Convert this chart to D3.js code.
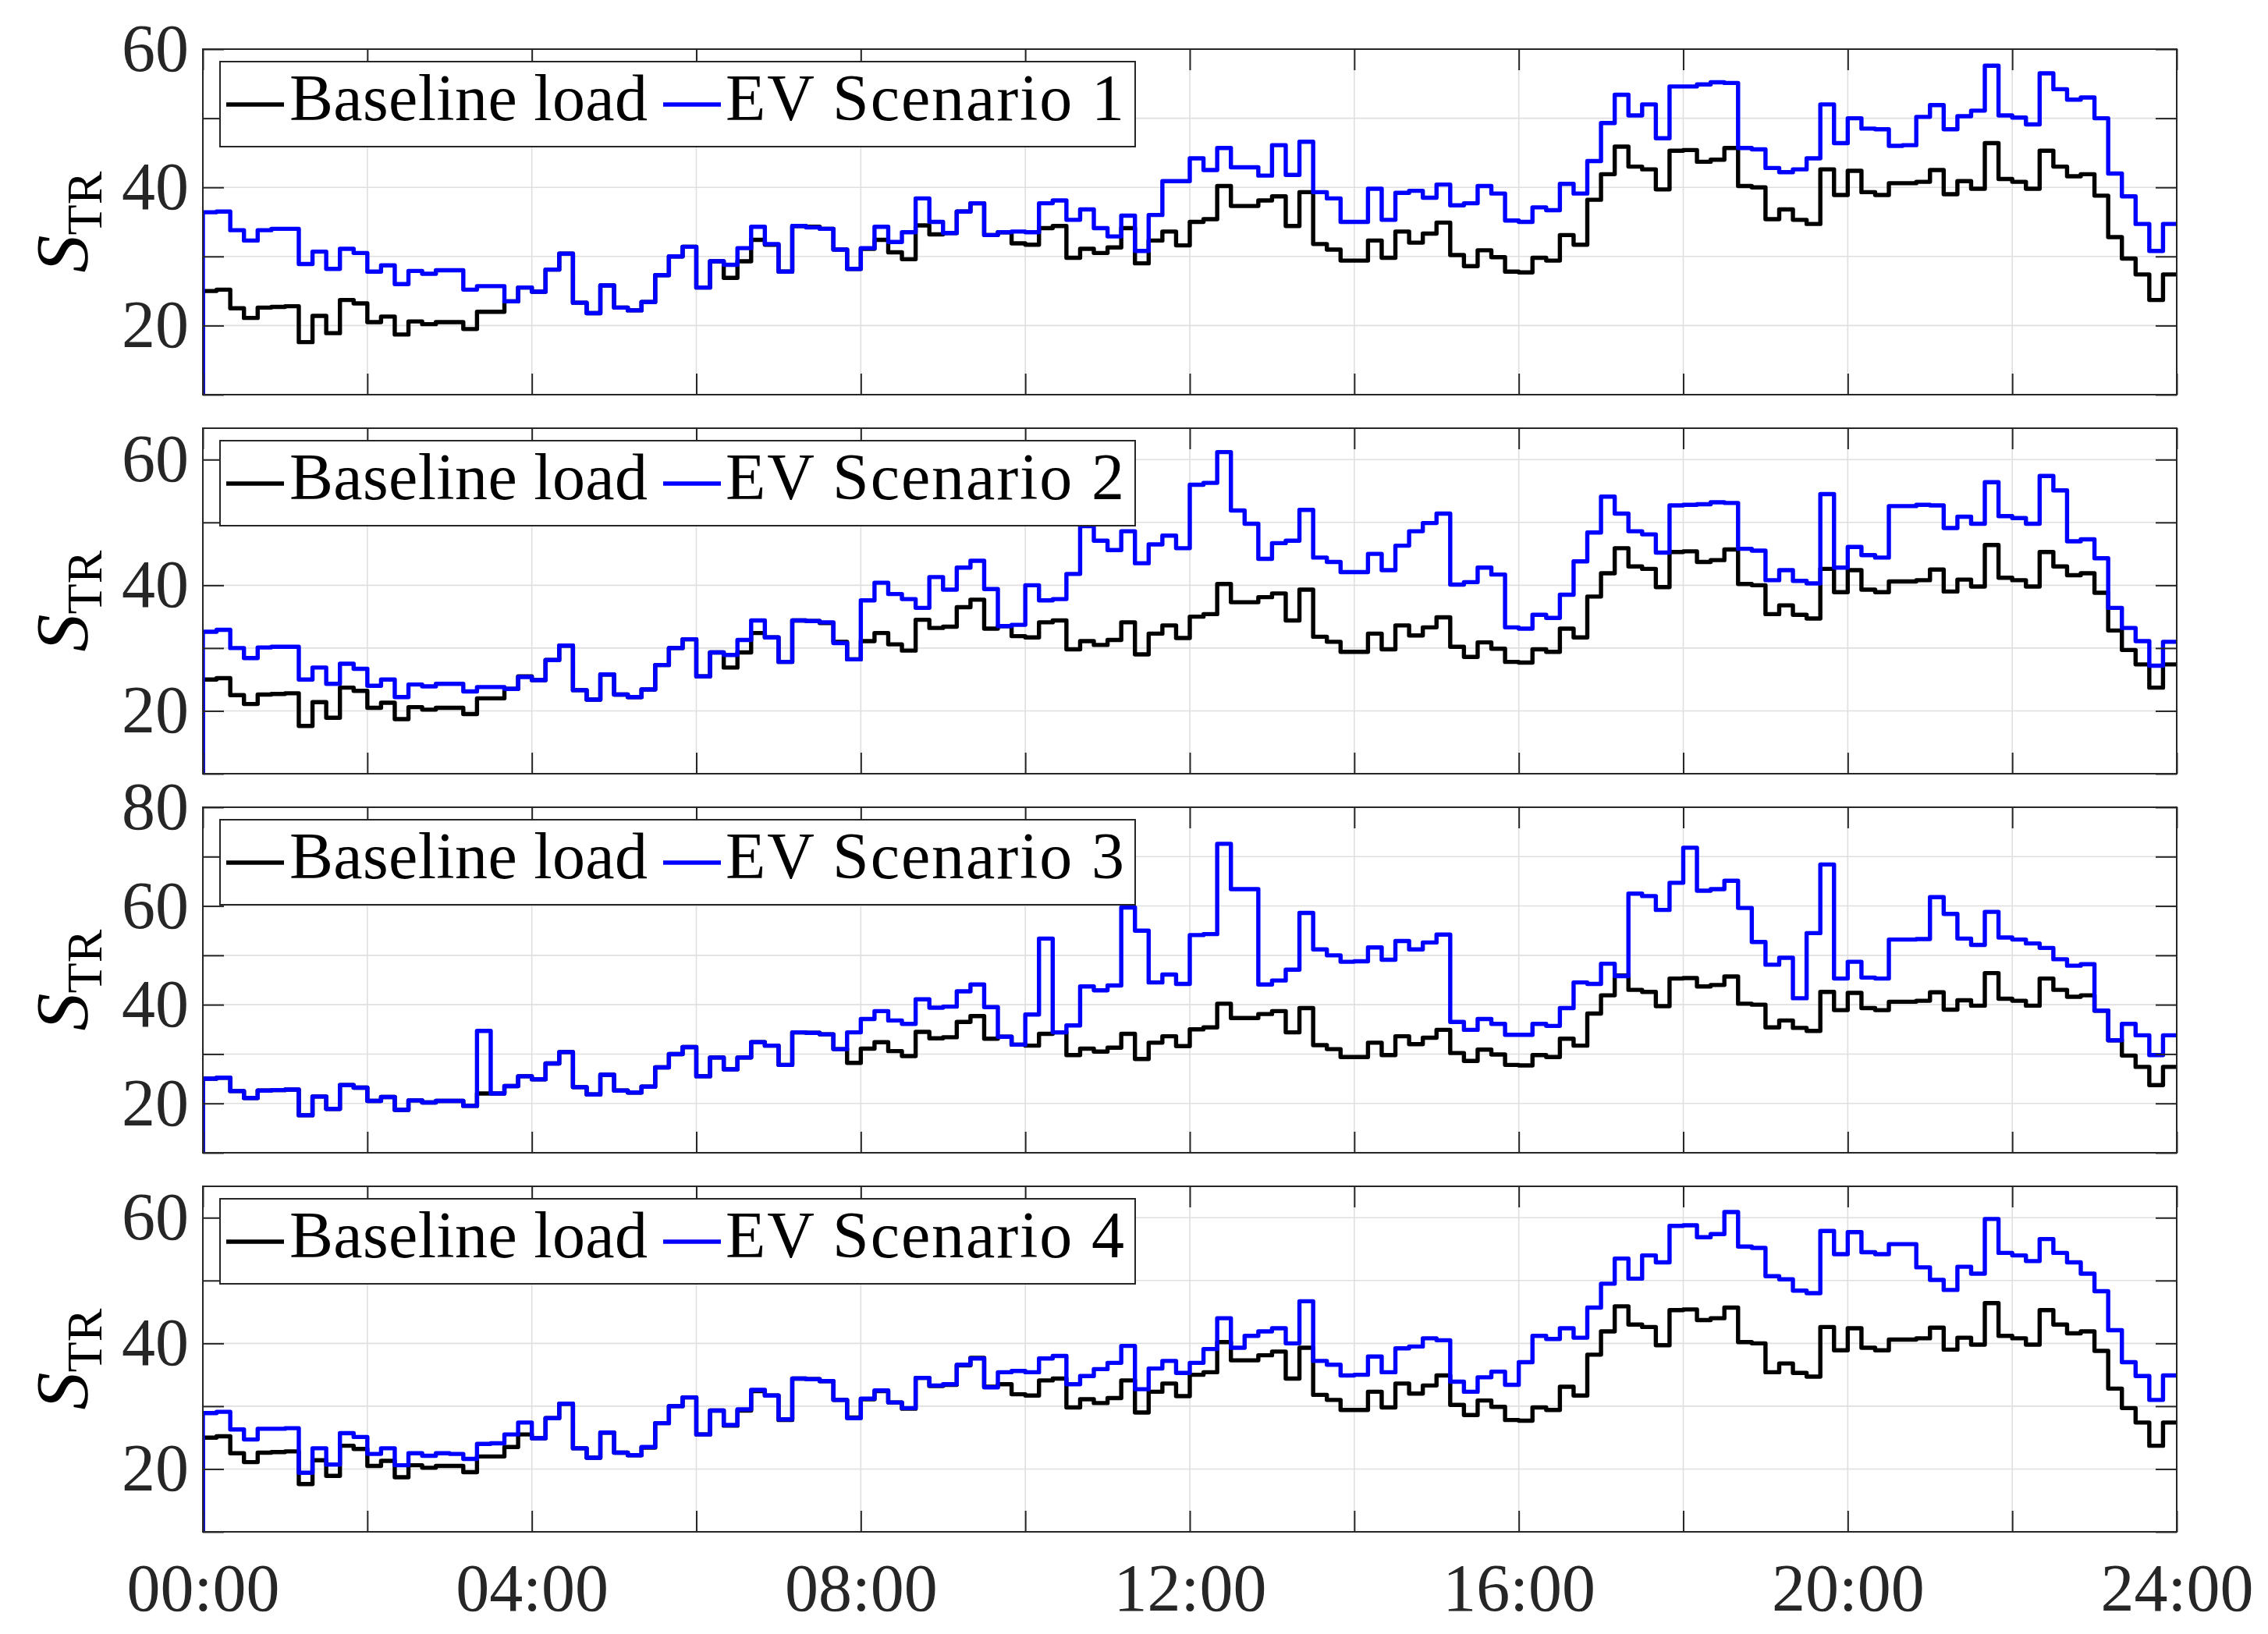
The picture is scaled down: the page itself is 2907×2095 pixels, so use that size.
<!DOCTYPE html>
<html>
<head>
<meta charset="utf-8">
<script src="https://cdn.jsdelivr.net/npm/d3@7"></script>
<style>
  body { margin: 0; background: #fff; }
  text { font-family: "Liberation Serif", "DejaVu Serif", serif; }
</style>
</head>
<body>
<svg id="chart"></svg>
<script>
// transformer load S_TR, 10-minute steps over one day (144 values each)
const baseline = [
  25.0, 25.2, 22.5, 21.1, 22.6, 22.7, 22.8, 17.6, 21.4, 18.9, 23.7, 23.2,
  20.5, 21.3, 18.7, 20.6, 20.2, 20.5, 20.5, 19.5, 22.0, 22.0, 23.5, 25.5,
  24.9, 28.1, 30.4, 23.3, 21.8, 25.8, 22.6, 22.2, 23.4, 27.3, 30.0, 31.4,
  25.5, 29.3, 26.9, 29.3, 32.4, 31.7, 27.8, 34.4, 34.3, 34.0, 31.0, 28.2,
  31.1, 32.4, 30.6, 29.6, 34.5, 33.2, 33.4, 36.5, 37.7, 33.1, 33.5, 31.9,
  31.7, 34.1, 34.4, 29.8, 31.1, 30.5, 31.3, 34.1, 29.0, 32.3, 33.6, 31.6,
  35.0, 35.4, 40.2, 37.3, 37.3, 38.1, 38.7, 34.4, 39.3, 31.8, 31.0, 29.4,
  29.4, 32.3, 29.8, 33.6, 32.0, 33.3, 34.9, 30.2, 28.6, 30.9, 29.9, 27.8,
  27.7, 29.8, 29.4, 33.1, 31.7, 38.2, 41.9, 45.9, 43.0, 42.6, 39.7, 45.3,
  45.4, 43.7, 44.0, 45.7, 40.2, 40.0, 35.4, 36.8, 35.3, 34.7, 42.6, 38.9,
  42.4, 39.3, 38.9, 40.6, 40.6, 40.8, 42.5, 39.0, 40.9, 39.8, 46.4, 41.2,
  40.8, 39.8, 45.3, 43.0, 41.6, 41.9, 38.8, 32.8, 29.7, 27.4, 23.7, 27.4
];

const ev1 = [
  36.4, 36.5, 33.8, 32.3, 33.8, 34.0, 34.0, 28.9, 30.7, 28.2, 31.1, 30.5,
  27.8, 28.7, 26.0, 27.9, 27.5, 28.0, 28.0, 25.2, 25.7, 25.7, 23.5, 25.5,
  24.9, 28.1, 30.4, 23.3, 21.8, 25.8, 22.6, 22.2, 23.4, 27.3, 30.0, 31.4,
  25.5, 29.3, 28.8, 31.2, 34.3, 31.8, 27.8, 34.4, 34.2, 34.0, 31.0, 28.2,
  31.2, 34.3, 32.1, 33.5, 38.4, 35.0, 33.4, 36.5, 37.7, 33.1, 33.5, 33.6,
  33.5, 37.7, 38.1, 35.3, 36.8, 34.1, 32.9, 35.9, 30.8, 36.0, 40.9, 40.9,
  44.2, 42.5, 45.7, 42.9, 42.9, 41.7, 46.1, 41.8, 46.6, 39.3, 38.4, 35.0,
  35.0, 39.8, 35.3, 39.2, 39.5, 38.5, 40.4, 37.4, 37.7, 40.2, 39.1, 35.2,
  35.0, 37.1, 36.7, 40.5, 39.1, 43.8, 49.3, 53.4, 50.4, 52.0, 47.1, 54.6,
  54.6, 54.9, 55.2, 55.1, 45.7, 45.5, 42.8, 42.2, 42.6, 44.2, 52.0, 46.4,
  50.0, 48.5, 48.4, 46.0, 46.1, 50.2, 51.9, 48.4, 50.3, 51.1, 57.6, 50.4,
  50.1, 49.1, 56.5, 54.2, 52.7, 53.0, 50.0, 42.0, 38.7, 34.7, 30.8, 34.7
];

const ev2 = [
  32.6, 32.9, 30.0, 28.4, 30.1, 30.2, 30.2, 25.0, 26.9, 24.3, 27.5, 26.7,
  24.0, 25.0, 22.2, 24.2, 23.9, 24.3, 24.3, 23.1, 23.8, 23.8, 23.5, 25.4,
  24.9, 28.1, 30.4, 23.3, 21.8, 25.8, 22.6, 22.2, 23.4, 27.3, 30.0, 31.4,
  25.5, 29.3, 28.9, 31.3, 34.4, 31.7, 27.8, 34.4, 34.3, 34.1, 30.8, 28.2,
  37.6, 40.4, 38.6, 37.8, 36.4, 41.3, 39.3, 42.8, 43.9, 39.4, 33.5, 33.7,
  40.0, 37.6, 37.8, 41.8, 49.4, 47.1, 45.6, 48.6, 43.5, 46.5, 47.9, 45.9,
  56.0, 56.3, 61.2, 51.9, 49.8, 44.2, 46.7, 47.1, 52.0, 44.4, 43.7, 42.1,
  42.1, 45.0, 42.4, 46.3, 48.6, 49.9, 51.4, 40.1, 40.5, 42.8, 41.7, 33.3,
  33.1, 35.3, 34.8, 38.5, 43.8, 48.4, 54.1, 51.4, 48.6, 48.1, 45.2, 52.7,
  52.8, 52.9, 53.2, 53.1, 45.8, 45.5, 40.8, 42.4, 40.7, 40.3, 54.5, 42.8,
  46.1, 44.8, 44.4, 52.6, 52.6, 52.8, 52.7, 49.1, 50.9, 49.8, 56.4, 51.0,
  50.7, 49.8, 57.4, 55.1, 47.0, 47.3, 44.3, 36.4, 33.2, 31.1, 27.2, 31.0
];

const ev3 = [
  25.0, 25.2, 22.5, 21.1, 22.6, 22.7, 22.8, 17.6, 21.4, 18.9, 23.7, 23.2,
  20.5, 21.3, 18.7, 20.6, 20.2, 20.5, 20.5, 19.5, 34.7, 22.0, 23.5, 25.5,
  24.9, 28.1, 30.4, 23.3, 21.8, 25.8, 22.6, 22.2, 23.4, 27.3, 30.0, 31.4,
  25.5, 29.3, 26.9, 29.3, 32.4, 31.7, 27.8, 34.4, 34.3, 34.0, 31.0, 34.4,
  37.1, 38.7, 36.8, 36.1, 41.1, 39.4, 39.6, 42.7, 44.1, 39.5, 33.5, 31.9,
  38.0, 53.4, 34.4, 35.8, 43.7, 42.9, 43.9, 59.7, 55.0, 44.5, 46.1, 44.2,
  54.1, 54.3, 72.6, 63.4, 63.4, 44.1, 44.9, 47.1, 58.6, 51.2, 50.0, 48.7,
  48.8, 51.6, 49.1, 52.9, 51.2, 52.6, 54.2, 36.5, 34.9, 37.1, 36.1, 33.9,
  33.9, 36.1, 35.7, 39.3, 44.5, 44.2, 48.3, 45.8, 62.5, 62.0, 59.2, 64.7,
  71.8, 63.1, 63.4, 65.1, 59.6, 52.7, 48.1, 49.5, 41.3, 54.5, 68.4, 45.3,
  48.7, 45.5, 45.3, 53.2, 53.2, 53.3, 61.8, 58.4, 53.4, 52.1, 58.8, 53.6,
  53.2, 52.4, 51.5, 49.2, 47.9, 48.2, 38.8, 32.8, 36.1, 33.8, 29.8, 33.8
];

const ev4 = [
  28.9, 29.1, 26.3, 24.7, 26.4, 26.4, 26.5, 19.4, 23.3, 20.7, 25.7, 25.1,
  22.4, 23.3, 20.6, 22.5, 22.1, 22.5, 22.4, 21.6, 24.0, 24.1, 25.5, 27.4,
  24.9, 28.1, 30.4, 23.3, 21.8, 25.8, 22.6, 22.2, 23.5, 27.3, 30.0, 31.4,
  25.5, 29.3, 27.0, 29.5, 32.6, 31.7, 27.9, 34.4, 34.3, 34.0, 31.0, 28.1,
  31.2, 32.5, 30.6, 29.7, 34.5, 33.3, 33.5, 36.6, 37.6, 33.0, 35.4, 35.6,
  35.4, 37.6, 38.0, 33.5, 34.8, 35.9, 36.9, 39.6, 32.7, 36.0, 37.2, 35.3,
  36.9, 39.1, 44.0, 39.3, 41.2, 41.9, 42.4, 40.0, 46.7, 37.2, 36.6, 34.9,
  35.0, 37.9, 35.4, 39.2, 39.5, 40.8, 40.5, 33.9, 32.3, 34.6, 35.5, 33.4,
  37.0, 41.2, 40.7, 42.4, 40.9, 45.7, 49.5, 53.5, 50.3, 54.0, 52.9, 58.7,
  58.8, 56.9, 57.4, 60.9, 55.4, 55.2, 50.7, 50.2, 48.4, 48.0, 57.9, 54.2,
  57.7, 54.5, 54.2, 55.8, 55.8, 52.1, 50.1, 48.5, 52.2, 51.1, 59.8, 54.4,
  54.0, 53.1, 56.6, 54.4, 52.9, 51.1, 48.3, 42.1, 37.0, 34.8, 31.0, 34.9
];

const scenarioNames = ["EV Scenario 1", "EV Scenario 2", "EV Scenario 3", "EV Scenario 4"];
const scenarioSeries = [ev1, ev2, ev3, ev4];
const yMaxes = [60, 65, 80, 65];
const yTickSets = [
  [10, 20, 30, 40, 50, 60],
  [10, 20, 30, 40, 50, 60],
  [10, 20, 30, 40, 50, 60, 70, 80],
  [10, 20, 30, 40, 50, 60]
];
const yLabelled = [20, 40, 60, 80];
const xTickHours = [0, 2, 4, 6, 8, 10, 12, 14, 16, 18, 20, 22, 24];
const timeLabels = ["00:00", "04:00", "08:00", "12:00", "16:00", "20:00", "24:00"];
const baselineName = "Baseline load";

const W = 2907, H = 2095;
const left = 260, right = 2790;
const top0 = 63, panelH = 443, panelStep = 486;
const axisColor = "#262626";
const tickLen = 27;
const fontTick = 86;
const lineW = 5.4;

const svg = d3.select("#chart").attr("width", W).attr("height", H);
const x = d3.scaleLinear().domain([0, 24]).range([left, right]);

// step series: curve starts from 0 at t=0 (clipped), then one value per 10 min
function stepPoints(vals) {
  let pts = [{t: 0, v: 0}];
  vals.forEach((v, i) => pts.push({t: i / 6, v: v}));
  pts.push({t: 24, v: vals[vals.length - 1]});
  return pts;
}

scenarioSeries.forEach((ev, i) => {
  const top = top0 + i * panelStep;
  const bottom = top + panelH;
  const y = d3.scaleLinear().domain([10, yMaxes[i]]).range([bottom, top]);
  const g = svg.append("g");

  svg.append("clipPath").attr("id", "clip" + i)
    .append("rect")
    .attr("x", left).attr("y", top)
    .attr("width", right - left).attr("height", panelH);

  // grid
  g.append("g").selectAll("line").data(xTickHours).join("line")
    .attr("x1", d => x(d)).attr("x2", d => x(d))
    .attr("y1", top).attr("y2", bottom)
    .attr("stroke", "#dfdfdf").attr("stroke-width", 1.6);
  g.append("g").selectAll("line").data(yTickSets[i]).join("line")
    .attr("x1", left).attr("x2", right)
    .attr("y1", d => y(d)).attr("y2", d => y(d))
    .attr("stroke", "#dfdfdf").attr("stroke-width", 1.6);

  const line = d3.line()
    .x(d => x(d.t))
    .y(d => y(d.v))
    .curve(d3.curveStepAfter);

  g.append("path").datum(stepPoints(baseline))
    .attr("d", line)
    .attr("clip-path", `url(#clip${i})`)
    .attr("fill", "none").attr("stroke", "#000")
    .attr("stroke-width", lineW).attr("stroke-linejoin", "round");
  g.append("path").datum(stepPoints(ev))
    .attr("d", line)
    .attr("clip-path", `url(#clip${i})`)
    .attr("fill", "none").attr("stroke", "#0000ff")
    .attr("stroke-width", lineW).attr("stroke-linejoin", "round");

  // axes with inward ticks on all four sides
  const styleAxis = sel => {
    sel.select(".domain").remove();
    sel.selectAll(".tick line").attr("stroke", axisColor).attr("stroke-width", 2);
    sel.selectAll(".tick text")
      .attr("fill", axisColor)
      .attr("font-size", fontTick)
      .attr("font-family", "Liberation Serif, DejaVu Serif, serif");
  };

  g.append("g").attr("transform", `translate(${left},0)`)
    .call(d3.axisLeft(y).tickValues(yTickSets[i]).tickSizeInner(-tickLen).tickSizeOuter(0)
      .tickPadding(18).tickFormat(d => yLabelled.includes(d) ? d : ""))
    .call(styleAxis);
  g.append("g").attr("transform", `translate(${right},0)`)
    .call(d3.axisRight(y).tickValues(yTickSets[i]).tickSizeInner(-tickLen).tickSizeOuter(0)
      .tickFormat(""))
    .call(styleAxis);
  g.append("g").attr("transform", `translate(0,${top})`)
    .call(d3.axisTop(x).tickValues(xTickHours).tickSizeInner(-tickLen).tickSizeOuter(0)
      .tickFormat(""))
    .call(styleAxis);
  const last = i === scenarioSeries.length - 1;
  g.append("g").attr("transform", `translate(0,${bottom})`)
    .call(d3.axisBottom(x).tickValues(xTickHours).tickSizeInner(-tickLen).tickSizeOuter(0)
      .tickPadding(40)
      .tickFormat(d => (last && d % 4 === 0) ? timeLabels[d / 4] : ""))
    .call(styleAxis);

  // box
  g.append("rect")
    .attr("x", left).attr("y", top)
    .attr("width", right - left).attr("height", panelH)
    .attr("fill", "none").attr("stroke", axisColor).attr("stroke-width", 2);

  // y label S_TR
  const yl = g.append("text")
    .attr("transform", `translate(112,${(top + bottom) / 2}) rotate(-90)`)
    .attr("text-anchor", "middle")
    .attr("fill", "#000");
  yl.append("tspan").attr("font-size", 96).attr("font-style", "italic").text("S");
  yl.append("tspan").attr("font-size", 64).attr("dy", 18).text("TR");

  // legend
  const lg = g.append("g").attr("transform", `translate(282,${top + 16})`);
  lg.append("rect")
    .attr("width", 1173).attr("height", 109)
    .attr("fill", "#fff").attr("stroke", axisColor).attr("stroke-width", 2);
  const items = [
    {name: baselineName, color: "#000", x0: 8, tx: 89, len: 459},
    {name: scenarioNames[i], color: "#0000ff", x0: 568, tx: 648, len: 511}
  ];
  items.forEach(it => {
    lg.append("line")
      .attr("x1", it.x0).attr("x2", it.x0 + 74)
      .attr("y1", 55).attr("y2", 55)
      .attr("stroke", it.color).attr("stroke-width", lineW);
    lg.append("text")
      .attr("x", it.tx).attr("y", 75)
      .attr("font-size", 84)
      .attr("textLength", it.len).attr("lengthAdjust", "spacing")
      .attr("fill", "#000")
      .text(it.name);
  });
});
</script>
</body>
</html>
